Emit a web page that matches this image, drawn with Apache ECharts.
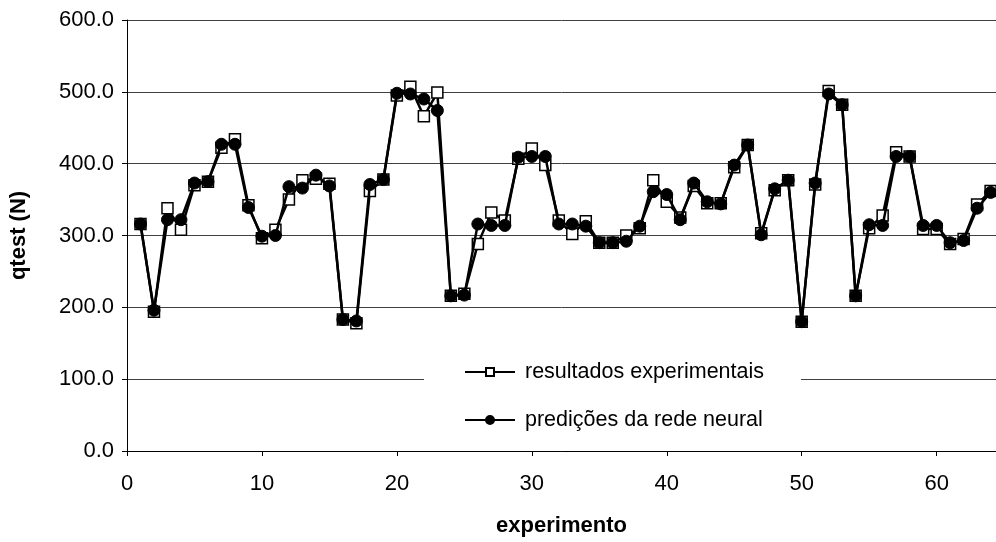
<!DOCTYPE html>
<html><head><meta charset="utf-8">
<script src="https://cdn.jsdelivr.net/npm/echarts@6/dist/echarts.min.js"></script>
<style>html,body{margin:0;padding:0;background:#fff}#c{width:996px;height:542px}</style>
</head><body><div id="c"></div>
<script>
const experimentos = [];
for (let i = 1; i <= 64; i++) experimentos.push(i);
const resultadosExperimentais = [316,194,338,308,370,375,422,434,342,296,308,350,377,379,372,183,178,362,378,495,507,466,499,216,219,288,332,321,407,421,398,321,302,320,290,290,300,310,377,347,325,369,345,345,395,426,303,363,377,180,371,501,482,216,310,328,416,410,309,309,288,295,343,362];
const predicoesRede = [316,196,322,322,373,375,427,427,339,299,300,368,366,384,369,183,181,371,378,498,497,490,474,216,217,316,314,314,409,410,410,316,316,313,290,290,292,313,361,357,322,373,347,344,398,426,301,365,377,180,373,497,482,216,315,314,410,410,314,314,290,293,338,360];
const xTicks = [0,10,20,30,40,50,60];
const yTicks = [0,100,200,300,400,500,600];

const font = "'Liberation Sans', Arial, sans-serif";
const chart = echarts.init(document.getElementById('c'));
chart.setOption({
  animation: false,
  backgroundColor: '#fff',
  grid: {left: 123, top: 20, right: 0, bottom: 87, containLabel: false},
  xAxis: {
    type: 'value', min: 0, max: 64.4, interval: 10,
    name: 'experimento', nameLocation: 'middle', nameGap: 64,
    nameTextStyle: {fontFamily: font, fontSize: 22, fontWeight: 'bold', color: '#000'},
    axisLine: {show: true, onZero: false, lineStyle: {color: '#000', width: 1}},
    axisTick: {show: true, length: 5, inside: false, customValues: xTicks, lineStyle: {color: '#000'}},
    axisLabel: {customValues: xTicks, margin: 22, fontFamily: font, fontSize: 22, color: '#000'},
    splitLine: {show: false}
  },
  yAxis: {
    type: 'value', min: 0, max: 600, interval: 100,
    name: 'qtest (N)', nameLocation: 'middle', nameGap: 97, nameRotate: 90,
    nameTextStyle: {fontFamily: font, fontSize: 22, fontWeight: 'bold', color: '#000'},
    axisLine: {show: true, lineStyle: {color: '#000', width: 1}},
    axisTick: {show: true, length: 5, inside: false, customValues: yTicks, lineStyle: {color: '#000'}},
    axisLabel: {margin: 13, fontFamily: font, fontSize: 22, color: '#000',
      formatter: v => v.toFixed(1)},
    splitLine: {show: true, lineStyle: {color: '#404040', width: 1}}
  },
  legend: {
    orient: 'vertical', left: 424, top: 348,
    padding: [12, 37, 12, 40],
    backgroundColor: '#fff',
    itemWidth: 50, itemHeight: 10, itemGap: 24,
    textStyle: {fontFamily: font, fontSize: 21.5, color: '#000', lineHeight: 24, padding: [0,0,0,5]},
    data: ['resultados experimentais', 'predições da rede neural']
  },
  series: [
    {
      name: 'resultados experimentais', type: 'line',
      data: experimentos.map((x, i) => [x, resultadosExperimentais[i]]),
      symbol: 'rect', symbolSize: 11,
      lineStyle: {color: '#000', width: 2.5},
      itemStyle: {color: '#fff', borderColor: '#000', borderWidth: 1.5},
      z: 2
    },
    {
      name: 'predições da rede neural', type: 'line',
      data: experimentos.map((x, i) => [x, predicoesRede[i]]),
      symbol: 'circle', symbolSize: 12,
      lineStyle: {color: '#000', width: 2.5},
      itemStyle: {color: '#000', borderColor: '#000', borderWidth: 1},
      z: 3
    }
  ]
});
</script>
</body></html>
